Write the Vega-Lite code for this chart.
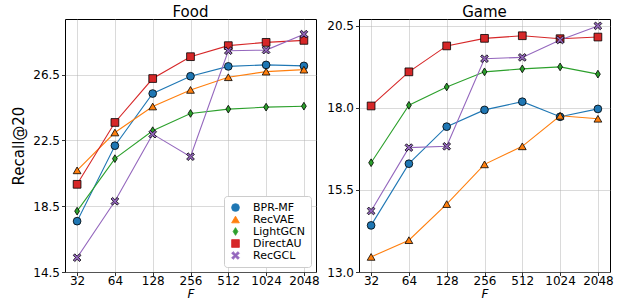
{
  "$schema": "https://vega.github.io/schema/vega-lite/v6.json",
  "background": "white",
  "padding": {"left": 11, "top": 4, "right": 5, "bottom": 0},
  "bounds": "flush",
  "spacing": 43,
  "config": {
    "font": "DejaVu Sans",
    "view": {"stroke": "black", "strokeWidth": 1},
    "axis": {
      "gridColor": "#b0b0b0", "gridOpacity": 0.6, "gridWidth": 0.8,
      "domain": false, "tickColor": "black", "tickSize": 3.5, "tickWidth": 0.8,
      "labelColor": "black", "labelFontSize": 12, "labelFont": "DejaVu Sans",
      "titleColor": "black", "titleFontWeight": "normal", "titleFont": "DejaVu Sans"
    },
    "axisX": {"labelPadding": 0},
    "title": {"fontSize": 15, "fontWeight": "normal", "font": "DejaVu Sans", "offset": -1, "color": "black"},
    "legend": {"labelFont": "DejaVu Sans", "labelFontSize": 11, "labelColor": "black", "symbolStrokeColor": "black", "symbolStrokeWidth": 0.8}
  },
  "data": {"values": [
    {"d":"Food","m":"BPR-MF","F":"32","v":17.59},{"d":"Food","m":"BPR-MF","F":"64","v":22.18},{"d":"Food","m":"BPR-MF","F":"128","v":25.35},{"d":"Food","m":"BPR-MF","F":"256","v":26.4},{"d":"Food","m":"BPR-MF","F":"512","v":27.0},{"d":"Food","m":"BPR-MF","F":"1024","v":27.09},{"d":"Food","m":"BPR-MF","F":"2048","v":27.03},
    {"d":"Food","m":"RecVAE","F":"32","v":20.68},{"d":"Food","m":"RecVAE","F":"64","v":22.98},{"d":"Food","m":"RecVAE","F":"128","v":24.56},{"d":"Food","m":"RecVAE","F":"256","v":25.57},{"d":"Food","m":"RecVAE","F":"512","v":26.34},{"d":"Food","m":"RecVAE","F":"1024","v":26.68},{"d":"Food","m":"RecVAE","F":"2048","v":26.8},
    {"d":"Food","m":"LightGCN","F":"32","v":18.2},{"d":"Food","m":"LightGCN","F":"64","v":21.39},{"d":"Food","m":"LightGCN","F":"128","v":23.09},{"d":"Food","m":"LightGCN","F":"256","v":24.14},{"d":"Food","m":"LightGCN","F":"512","v":24.4},{"d":"Food","m":"LightGCN","F":"1024","v":24.52},{"d":"Food","m":"LightGCN","F":"2048","v":24.58},
    {"d":"Food","m":"DirectAU","F":"32","v":19.83},{"d":"Food","m":"DirectAU","F":"64","v":23.59},{"d":"Food","m":"DirectAU","F":"128","v":26.26},{"d":"Food","m":"DirectAU","F":"256","v":27.59},{"d":"Food","m":"DirectAU","F":"512","v":28.26},{"d":"Food","m":"DirectAU","F":"1024","v":28.46},{"d":"Food","m":"DirectAU","F":"2048","v":28.58},
    {"d":"Food","m":"RecGCL","F":"32","v":15.37},{"d":"Food","m":"RecGCL","F":"64","v":18.8},{"d":"Food","m":"RecGCL","F":"128","v":22.88},{"d":"Food","m":"RecGCL","F":"256","v":21.51},{"d":"Food","m":"RecGCL","F":"512","v":27.95},{"d":"Food","m":"RecGCL","F":"1024","v":27.99},{"d":"Food","m":"RecGCL","F":"2048","v":28.96},
    {"d":"Game","m":"BPR-MF","F":"32","v":14.42},{"d":"Game","m":"BPR-MF","F":"64","v":16.3},{"d":"Game","m":"BPR-MF","F":"128","v":17.43},{"d":"Game","m":"BPR-MF","F":"256","v":17.94},{"d":"Game","m":"BPR-MF","F":"512","v":18.19},{"d":"Game","m":"BPR-MF","F":"1024","v":17.73},{"d":"Game","m":"BPR-MF","F":"2048","v":17.97},
    {"d":"Game","m":"RecVAE","F":"32","v":13.46},{"d":"Game","m":"RecVAE","F":"64","v":13.97},{"d":"Game","m":"RecVAE","F":"128","v":15.07},{"d":"Game","m":"RecVAE","F":"256","v":16.28},{"d":"Game","m":"RecVAE","F":"512","v":16.83},{"d":"Game","m":"RecVAE","F":"1024","v":17.76},{"d":"Game","m":"RecVAE","F":"2048","v":17.67},
    {"d":"Game","m":"LightGCN","F":"32","v":16.33},{"d":"Game","m":"LightGCN","F":"64","v":18.08},{"d":"Game","m":"LightGCN","F":"128","v":18.64},{"d":"Game","m":"LightGCN","F":"256","v":19.1},{"d":"Game","m":"LightGCN","F":"512","v":19.19},{"d":"Game","m":"LightGCN","F":"1024","v":19.25},{"d":"Game","m":"LightGCN","F":"2048","v":19.03},
    {"d":"Game","m":"DirectAU","F":"32","v":18.06},{"d":"Game","m":"DirectAU","F":"64","v":19.1},{"d":"Game","m":"DirectAU","F":"128","v":19.89},{"d":"Game","m":"DirectAU","F":"256","v":20.12},{"d":"Game","m":"DirectAU","F":"512","v":20.2},{"d":"Game","m":"DirectAU","F":"1024","v":20.11},{"d":"Game","m":"DirectAU","F":"2048","v":20.16},
    {"d":"Game","m":"RecGCL","F":"32","v":14.86},{"d":"Game","m":"RecGCL","F":"64","v":16.79},{"d":"Game","m":"RecGCL","F":"128","v":16.83},{"d":"Game","m":"RecGCL","F":"256","v":19.5},{"d":"Game","m":"RecGCL","F":"512","v":19.54},{"d":"Game","m":"RecGCL","F":"1024","v":20.07},{"d":"Game","m":"RecGCL","F":"2048","v":20.5}
  ]},
  "resolve": {"legend": {"color": "independent", "shape": "independent"}},
  "hconcat": [
    {
      "title": "Food",
      "width": 251, "height": 253,
      "transform": [{"filter": "datum.d === 'Food'"}],
      "encoding": {
        "x": {"field": "F", "type": "ordinal", "sort": ["32","64","128","256","512","1024","2048"],
              "scale": {"type": "point", "padding": 0.32},
              "axis": {"labelAngle": 0, "grid": true, "title": "F", "titleFontStyle": "italic", "titleFontSize": 12, "titlePadding": 2}},
        "y": {"field": "v", "type": "quantitative",
              "scale": {"domain": [14.5, 29.88], "nice": false, "zero": false},
              "axis": {"values": [14.5, 18.5, 22.5, 26.5], "format": ".1f", "title": "Recall@20", "titleFontSize": 15, "titlePadding": 6}},
        "color": {"field": "m", "type": "nominal", "title": null,
                  "scale": {"domain": ["BPR-MF","RecVAE","LightGCN","DirectAU","RecGCL"], "range": ["#1f77b4","#ff7f0e","#2ca02c","#d62728","#9467bd"]},
                  "legend": {"orient": "bottom-right", "title": null, "offset": 5, "padding": 6, "rowPadding": 0, "symbolSize": 60,
                             "strokeColor": "#cccccc", "fillColor": "white", "cornerRadius": 3, "labelOffset": 12,
                             "symbolStrokeColor": "black", "symbolStrokeWidth": 0.8,
                             "encode": {"symbols": {"update": {"stroke": {"value": "black"}, "strokeWidth": {"value": 0.8}}}}}},
        "shape": {"field": "m", "type": "nominal", "title": null,
                  "scale": {"domain": ["BPR-MF","RecVAE","LightGCN","DirectAU","RecGCL"],
                            "range": ["circle","triangle-up","M0,-1L0.62,0L0,1L-0.62,0Z","square","M-1,-0.6L-0.6,-1L0,-0.4L0.6,-1L1,-0.6L0.4,0L1,0.6L0.6,1L0,0.4L-0.6,1L-1,0.6L-0.4,0Z"]},
                  "legend": {"orient": "bottom-right", "title": null, "symbolStrokeColor": "black", "symbolStrokeWidth": 0.8,
                             "encode": {"symbols": {"update": {"stroke": {"value": "black"}, "strokeWidth": {"value": 0.8}}}}}}
      },
      "layer": [
        {"mark": {"type": "line", "strokeWidth": 1.1}},
        {"mark": {"type": "point", "filled": true, "opacity": 1, "strokeWidth": 0.8, "size": 60},
         "encoding": {"stroke": {"value": "black"}}}
      ]
    },
    {
      "title": "Game",
      "width": 251, "height": 253,
      "transform": [{"filter": "datum.d === 'Game'"}],
      "encoding": {
        "x": {"field": "F", "type": "ordinal", "sort": ["32","64","128","256","512","1024","2048"],
              "scale": {"type": "point", "padding": 0.32},
              "axis": {"labelAngle": 0, "grid": true, "title": "F", "titleFontStyle": "italic", "titleFontSize": 12, "titlePadding": 2}},
        "y": {"field": "v", "type": "quantitative",
              "scale": {"domain": [13.0, 20.71], "nice": false, "zero": false},
              "axis": {"values": [13.0, 15.5, 18.0, 20.5], "format": ".1f", "title": null}},
        "color": {"field": "m", "type": "nominal", "legend": null,
                  "scale": {"domain": ["BPR-MF","RecVAE","LightGCN","DirectAU","RecGCL"], "range": ["#1f77b4","#ff7f0e","#2ca02c","#d62728","#9467bd"]}}
      },
      "layer": [
        {"mark": {"type": "line", "strokeWidth": 1.1}},
        {"mark": {"type": "point", "filled": true, "opacity": 1, "stroke": "black", "strokeWidth": 0.8, "size": 60},
         "encoding": {
           "shape": {"field": "m", "type": "nominal", "legend": null,
                     "scale": {"domain": ["BPR-MF","RecVAE","LightGCN","DirectAU","RecGCL"],
                               "range": ["circle","triangle-up","M0,-1L0.62,0L0,1L-0.62,0Z","square","M-1,-0.6L-0.6,-1L0,-0.4L0.6,-1L1,-0.6L0.4,0L1,0.6L0.6,1L0,0.4L-0.6,1L-1,0.6L-0.4,0Z"]}}
         }}
      ]
    }
  ]
}
